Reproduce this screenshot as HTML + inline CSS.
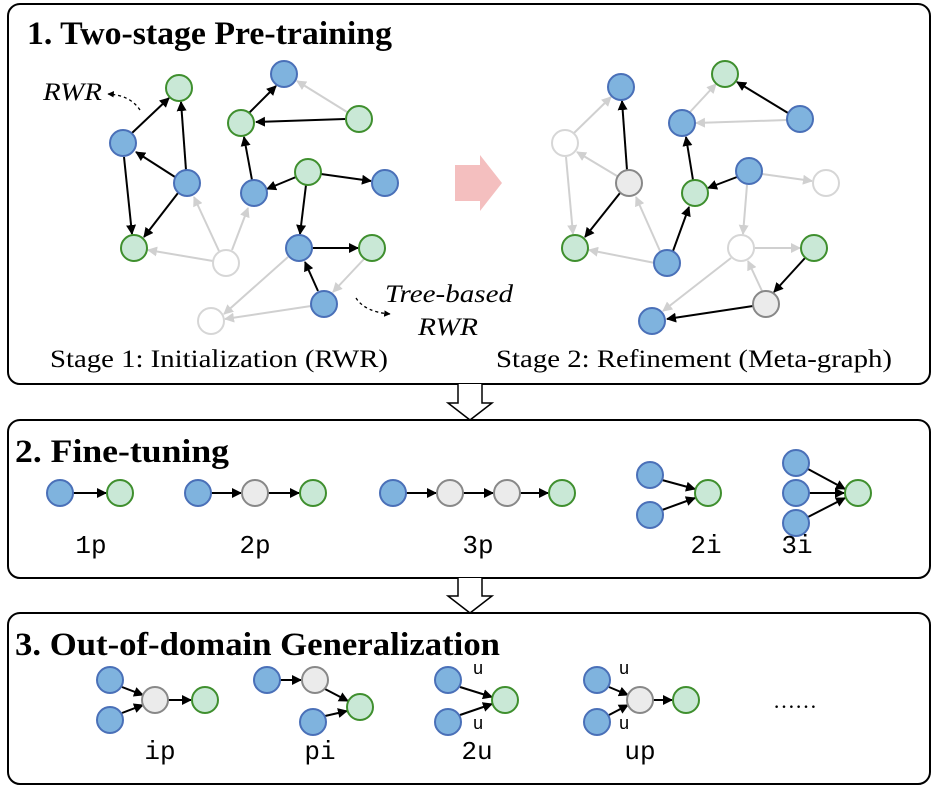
<!DOCTYPE html>
<html><head><meta charset="utf-8"><style>
html,body{margin:0;padding:0;background:#fff;}
svg{display:block}
</style></head><body>
<svg width="940" height="792" viewBox="0 0 940 792" xmlns="http://www.w3.org/2000/svg">
<defs>
<marker id="ak" viewBox="0 0 10 10" refX="9" refY="5" markerWidth="5" markerHeight="5" orient="auto"><path d="M0,0L10,5L0,10z" fill="#000"/></marker>
<marker id="ag" viewBox="0 0 10 10" refX="9" refY="5" markerWidth="5" markerHeight="5" orient="auto"><path d="M0,0L10,5L0,10z" fill="#d0d0d0"/></marker>
</defs>
<g fill="none" stroke="#000" stroke-width="2">
<rect x="8" y="4" width="922" height="380" rx="12"/>
<rect x="8" y="420" width="922" height="158" rx="12"/>
<rect x="8" y="613" width="922" height="171" rx="12"/>
<path d="M458,384V403H448L470,420L492,403H482V384" fill="#fff" stroke-width="1.5"/>
<path d="M458,578V596H448L470,613L492,596H482V578" fill="#fff" stroke-width="1.5"/>
</g>
<path d="M455,165H480L480,155L502,183L480,211L480,201H455z" fill="#f4bfbf"/>
<g font-family="Liberation Serif, serif" font-weight="bold" font-size="33" lengthAdjust="spacingAndGlyphs">
<text x="27" y="44" textLength="365" lengthAdjust="spacingAndGlyphs">1. Two-stage Pre-training</text>
<text x="15" y="462" textLength="214" lengthAdjust="spacingAndGlyphs">2. Fine-tuning</text>
<text x="15" y="655" textLength="485" lengthAdjust="spacingAndGlyphs">3. Out-of-domain Generalization</text>
</g>
<g font-family="Liberation Serif, serif" font-size="25">
<text x="50" y="367" textLength="338" lengthAdjust="spacingAndGlyphs">Stage 1: Initialization (RWR)</text>
<text x="496" y="367" textLength="396" lengthAdjust="spacingAndGlyphs">Stage 2: Refinement (Meta-graph)</text>
<text x="43" y="100" font-style="italic" textLength="59" lengthAdjust="spacingAndGlyphs">RWR</text>
<text x="385" y="302" font-style="italic" textLength="128" lengthAdjust="spacingAndGlyphs">Tree-based</text>
<text x="418" y="335" font-style="italic" textLength="60" lengthAdjust="spacingAndGlyphs">RWR</text>
</g>
<g fill="none" stroke="#000" stroke-width="1.3" stroke-dasharray="3,3">
<path d="M140,110Q130,95 108,94" marker-end="url(#ak)"/>
<path d="M356,298Q365,312 390,314" marker-end="url(#ak)"/>
</g>
<g stroke-width="2" fill="none">
<g stroke="#d0d0d0" marker-end="url(#ag)">
<line x1="213" y1="261" x2="148" y2="250"/>
<line x1="219" y1="251" x2="194" y2="197"/>
<line x1="232" y1="250" x2="248" y2="208"/>
<line x1="288" y1="257" x2="224" y2="314"/>
<line x1="311" y1="306" x2="225" y2="319"/>
<line x1="364" y1="259" x2="333" y2="292"/>
<line x1="347" y1="112" x2="297" y2="81"/>
<line x1="574" y1="133" x2="611" y2="97"/>
<line x1="566" y1="157" x2="573" y2="234"/>
<line x1="617" y1="176" x2="577" y2="152"/>
<line x1="655" y1="263" x2="589" y2="250"/>
<line x1="660" y1="251" x2="636" y2="197"/>
<line x1="690" y1="112" x2="716" y2="84"/>
<line x1="787" y1="120" x2="696" y2="123"/>
<line x1="762" y1="174" x2="812" y2="181"/>
<line x1="747" y1="185" x2="743" y2="234"/>
<line x1="755" y1="248" x2="800" y2="248"/>
<line x1="762" y1="291" x2="748" y2="261"/>
<line x1="731" y1="258" x2="663" y2="311"/>
</g>
<g stroke="#000" marker-end="url(#ak)">
<line x1="132" y1="133" x2="169" y2="98"/>
<line x1="186" y1="170" x2="181" y2="102"/>
<line x1="175" y1="177" x2="136" y2="152"/>
<line x1="124" y1="157" x2="132" y2="234"/>
<line x1="178" y1="193" x2="144" y2="237"/>
<line x1="252" y1="180" x2="244" y2="137"/>
<line x1="249" y1="113" x2="276" y2="86"/>
<line x1="345" y1="119" x2="256" y2="122"/>
<line x1="296" y1="177" x2="267" y2="189"/>
<line x1="321" y1="174" x2="371" y2="181"/>
<line x1="306" y1="185" x2="300" y2="234"/>
<line x1="312" y1="248" x2="358" y2="248"/>
<line x1="318" y1="291" x2="305" y2="262"/>
<line x1="627" y1="170" x2="622" y2="101"/>
<line x1="620" y1="193" x2="585" y2="237"/>
<line x1="673" y1="251" x2="689" y2="207"/>
<line x1="693" y1="180" x2="686" y2="137"/>
<line x1="788" y1="113" x2="737" y2="82"/>
<line x1="737" y1="177" x2="708" y2="188"/>
<line x1="805" y1="258" x2="774" y2="292"/>
<line x1="753" y1="306" x2="667" y2="319"/>
<line x1="73" y1="493" x2="106" y2="493"/>
<line x1="211" y1="493" x2="241" y2="493"/>
<line x1="268" y1="493" x2="299" y2="493"/>
<line x1="406" y1="493" x2="436" y2="493"/>
<line x1="463" y1="493" x2="493" y2="493"/>
<line x1="520" y1="493" x2="548" y2="493"/>
<line x1="662" y1="480" x2="695" y2="489"/>
<line x1="662" y1="510" x2="695" y2="498"/>
<line x1="808" y1="469" x2="845" y2="489"/>
<line x1="809" y1="493" x2="844" y2="493"/>
<line x1="808" y1="517" x2="845" y2="498"/>
<line x1="122" y1="687" x2="143" y2="695"/>
<line x1="122" y1="713" x2="143" y2="705"/>
<line x1="168" y1="700" x2="191" y2="700"/>
<line x1="280" y1="680" x2="301" y2="680"/>
<line x1="325" y1="689" x2="348" y2="701"/>
<line x1="325" y1="716" x2="347" y2="711"/>
<line x1="460" y1="687" x2="492" y2="697"/>
<line x1="460" y1="715" x2="492" y2="704"/>
<line x1="609" y1="687" x2="628" y2="695"/>
<line x1="609" y1="715" x2="628" y2="705"/>
<line x1="653" y1="700" x2="672" y2="700"/>
</g>
</g>
<g stroke-width="2">
<g fill="#7fb3de" stroke="#4a70b8">
<circle cx="123" cy="143" r="13"/><circle cx="187" cy="183" r="13"/><circle cx="284" cy="74" r="13"/>
<circle cx="254" cy="193" r="13"/><circle cx="385" cy="183" r="13"/><circle cx="299" cy="248" r="13"/><circle cx="324" cy="304" r="13"/>
<circle cx="621" cy="87" r="13"/><circle cx="667" cy="263" r="13"/><circle cx="682" cy="123" r="13"/><circle cx="800" cy="119" r="13"/><circle cx="749" cy="171" r="13"/><circle cx="652" cy="321" r="13"/>
<circle cx="60" cy="493" r="13"/><circle cx="198" cy="493" r="13"/><circle cx="393" cy="493" r="13"/>
<circle cx="650" cy="475" r="13"/><circle cx="650" cy="515" r="13"/>
<circle cx="796" cy="463" r="13"/><circle cx="796" cy="493" r="13"/><circle cx="796" cy="523" r="13"/>
<circle cx="110" cy="680" r="13"/><circle cx="110" cy="720" r="13"/>
<circle cx="267" cy="680" r="13"/><circle cx="313" cy="722" r="13"/>
<circle cx="448" cy="680" r="13"/><circle cx="448" cy="722" r="13"/>
<circle cx="597" cy="680" r="13"/><circle cx="597" cy="722" r="13"/>
</g>
<g fill="#c9e8d6" stroke="#3f8f2e">
<circle cx="179" cy="88" r="13"/><circle cx="134" cy="248" r="13"/><circle cx="241" cy="123" r="13"/><circle cx="359" cy="119" r="13"/><circle cx="308" cy="172" r="13"/><circle cx="372" cy="248" r="13"/>
<circle cx="575" cy="248" r="13"/><circle cx="725" cy="74" r="13"/><circle cx="695" cy="193" r="13"/><circle cx="814" cy="248" r="13"/>
<circle cx="120" cy="493" r="13"/><circle cx="313" cy="493" r="13"/><circle cx="562" cy="493" r="13"/><circle cx="708" cy="493" r="13"/><circle cx="858" cy="493" r="13"/>
<circle cx="205" cy="700" r="13"/><circle cx="360" cy="707" r="13"/><circle cx="505" cy="700" r="13"/><circle cx="686" cy="700" r="13"/>
</g>
<g fill="#ebebeb" stroke="#888">
<circle cx="629" cy="183" r="13"/><circle cx="766" cy="304" r="13"/>
<circle cx="255" cy="493" r="13"/><circle cx="450" cy="493" r="13"/><circle cx="507" cy="493" r="13"/>
<circle cx="155" cy="700" r="13"/><circle cx="315" cy="680" r="13"/><circle cx="640" cy="700" r="13"/>
</g>
<g fill="#fff" stroke="#d6d6d6">
<circle cx="226" cy="263" r="13"/><circle cx="211" cy="321" r="13"/>
<circle cx="565" cy="143" r="13"/><circle cx="826" cy="183" r="13"/><circle cx="741" cy="248" r="13"/>
</g>
</g>
<g font-family="Liberation Mono, monospace" font-size="26" text-anchor="middle">
<text x="91" y="553">1p</text><text x="255" y="553">2p</text><text x="478" y="553">3p</text><text x="706" y="553">2i</text><text x="797" y="553">3i</text>
<text x="160" y="759">ip</text><text x="320" y="759">pi</text><text x="477" y="759">2u</text><text x="640" y="759">up</text>
<g font-size="18"><text x="478" y="674">u</text><text x="478" y="729">u</text><text x="624" y="674">u</text><text x="624" y="729">u</text></g>
</g>
<text x="795" y="708" font-family="Liberation Serif, serif" font-size="22" text-anchor="middle">……</text>
</svg>
</body></html>
